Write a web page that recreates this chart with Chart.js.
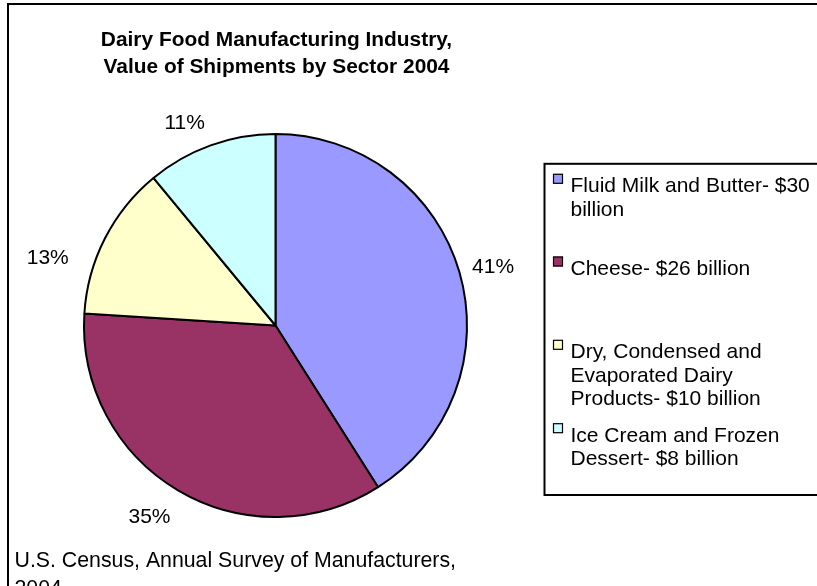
<!DOCTYPE html>
<html>
<head>
<meta charset="utf-8">
<title>Dairy Food Manufacturing Industry</title>
<script src="https://cdn.jsdelivr.net/npm/chart.js@4.4.1/dist/chart.umd.min.js"></script>
<style>
  html, body { margin: 0; padding: 0; background: #ffffff; overflow: hidden; }
  #wrap { position: relative; width: 817px; height: 586px; }
  canvas { display: block; }
</style>
</head>
<body>
<div id="wrap"><canvas id="pie" width="817" height="586"></canvas></div>
<script>
// Sectors of the dairy food manufacturing industry, 2004
const sectors = [
  'Fluid Milk and Butter',
  'Cheese',
  'Dry, Condensed and Evaporated Dairy Products',
  'Ice Cream and Frozen Dessert'
];
// Value of shipments, billions of dollars (as stated in the legend)
const shipmentsBillion = [30, 26, 10, 8];
// Share of total shipments, percent (as printed beside each slice)
const sharePercent = [41, 35, 13, 11];
const sliceColors = ['#9999FF', '#993366', '#FFFFCC', '#CCFFFF'];
const titleLines = ['Dairy Food Manufacturing Industry,', 'Value of Shipments by Sector 2004'];
const sourceLines = ['U.S. Census, Annual Survey of Manufacturers,', '2004'];

const FONT = '"Liberation Sans", Arial, Helvetica, sans-serif';

function wrapText(ctx, text, maxWidth) {
  const words = text.split(' ');
  const lines = [];
  let line = '';
  for (const w of words) {
    const test = line ? line + ' ' + w : w;
    if (line && ctx.measureText(test).width > maxWidth) {
      lines.push(line);
      line = w;
    } else {
      line = test;
    }
  }
  if (line) lines.push(line);
  return lines;
}

// Frame, title, legend box, slice labels and source note
const decorations = {
  id: 'decorations',
  beforeDraw(chart) {
    const ctx = chart.ctx;
    ctx.save();
    ctx.fillStyle = '#ffffff';
    ctx.fillRect(0, 0, chart.width, chart.height);
    ctx.strokeStyle = '#000000';
    ctx.lineWidth = 2;
    ctx.strokeRect(8, 4, 1000, 1000);
    ctx.restore();
  },
  afterDraw(chart, args, opts) {
    const ctx = chart.ctx;
    ctx.save();
    ctx.fillStyle = '#000000';
    ctx.textBaseline = 'alphabetic';

    // Title
    ctx.font = 'bold 20.9px ' + FONT;
    ctx.textAlign = 'center';
    titleLines.forEach((t, i) => ctx.fillText(t, opts.titleX, opts.titleBaselines[i]));

    // Percentage labels placed outside each slice
    ctx.font = '21px ' + FONT;
    const meta = chart.getDatasetMeta(0);
    meta.data.forEach((arc, i) => {
      const p = arc.getProps(['x', 'y', 'startAngle', 'endAngle', 'outerRadius'], true);
      const mid = (p.startAngle + p.endAngle) / 2;
      const dx = Math.cos(mid), dy = Math.sin(mid);
      const text = sharePercent[i] + '%';
      const w = ctx.measureText(text).width;
      const capH = 15;
      const d = p.outerRadius + 24;
      const nudge = opts.labelNudge[i];
      const cx = p.x + dx * d + dx * w / 2 + nudge[0];
      const cy = p.y + dy * d + dy * capH / 2 + nudge[1];
      ctx.textAlign = 'center';
      ctx.fillText(text, cx, cy + capH / 2);
    });

    // Legend box
    ctx.strokeStyle = '#000000';
    ctx.lineWidth = 2;
    ctx.strokeRect(544.5, 163.8, 400, 331.2);
    ctx.font = '21px ' + FONT;
    ctx.textAlign = 'left';
    sectors.forEach((s, i) => {
      const label = s + '- $' + shipmentsBillion[i] + ' billion';
      const lines = wrapText(ctx, label, opts.legendWrap);
      const base = opts.legendBaselines[i];
      ctx.fillStyle = sliceColors[i];
      ctx.fillRect(553, base - 18.5, 10, 10);
      ctx.strokeStyle = '#000000';
      ctx.lineWidth = 1.2;
      ctx.strokeRect(553.5, base - 18, 9, 9);
      ctx.fillStyle = '#000000';
      lines.forEach((ln, k) => ctx.fillText(ln, 570.5, base + k * 23.4));
    });

    // Source note
    ctx.font = '21.3px ' + FONT;
    sourceLines.forEach((t, i) => ctx.fillText(t, 14.5, 567.3 + i * 27.4));
    ctx.restore();
  }
};

new Chart(document.getElementById('pie'), {
  type: 'pie',
  data: {
    labels: sectors,
    datasets: [{
      data: sharePercent,
      backgroundColor: sliceColors,
      borderColor: '#000000',
      borderWidth: 2,
      hoverBorderWidth: 2,
      hoverOffset: 0
    }]
  },
  options: {
    responsive: false,
    devicePixelRatio: 1,
    animation: false,
    events: [],
    radius: 191.5,
    layout: { padding: { left: 84, right: 350, top: 134, bottom: 69 } },
    plugins: {
      legend: { display: false },
      title: { display: false },
      tooltip: { enabled: false },
      decorations: {
        titleX: 276.5,
        titleBaselines: [45.7, 73.3],
        legendWrap: 246,
        legendBaselines: [192.3, 275, 358.3, 441.7],
        labelNudge: [[-9.5, 2.7], [-5.6, -1.5], [-17, 32.7], [-11, 5.4]]
      }
    }
  },
  plugins: [decorations]
});
</script>
</body>
</html>
